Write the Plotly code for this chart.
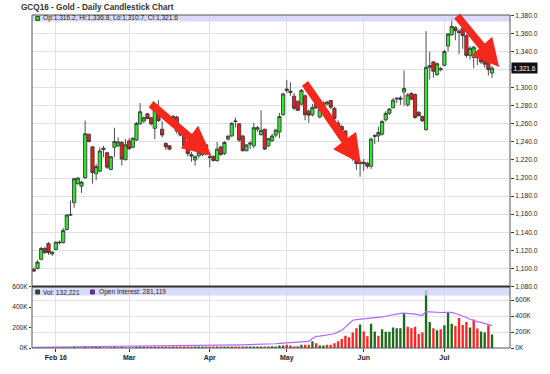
import plotly.graph_objects as go
import pandas as pd

# ---------------- data ----------------
holidays = ["2016-02-15", "2016-03-25", "2016-05-30", "2016-07-04"]
dates = [d for d in pd.bdate_range("2016-01-22", "2016-07-21")
         if d.strftime("%Y-%m-%d") not in holidays]

month_labels = ["Feb 16", "Mar", "Apr", "May", "Jun", "Jul"]

opens = [
    1099, 1100, 1110, 1122, 1127.5, 1116, 1121, 1129, 1128.5, 1143,
    1159, 1172.7, 1194, 1191, 1200.4, 1248.4, 1234.5, 1204.7, 1207.6, 1233,
    1228, 1209.5, 1234, 1236, 1239.3, 1220.4, 1241, 1234, 1242, 1260,
    1263, 1271, 1266.7, 1255, 1271, 1254, 1238.2, 1235.6, 1263.6, 1267.5,
    1254, 1247, 1232, 1225.8, 1220, 1224.7, 1226, 1236.7, 1223.6, 1224,
    1219.2, 1234.5, 1227.2, 1243, 1246.6, 1263.2, 1260, 1246.6, 1230.2, 1237.5,
    1235.6, 1254, 1248, 1253.9, 1235.6, 1241.5, 1247.5, 1251, 1270, 1298.5,
    1294.5, 1290.5, 1285, 1281.8, 1291, 1274, 1270, 1283, 1267.5, 1274.7,
    1282, 1285.7, 1277, 1261, 1257, 1252, 1241, 1232, 1219, 1216,
    1217.4, 1216.3, 1213, 1246, 1246.7, 1248.5, 1264.4, 1271.6, 1277.8, 1287.5,
    1287, 1295.3, 1281, 1293.5, 1292.4, 1272.7, 1268, 1253.5, 1322.5, 1328.5,
    1314.5, 1321, 1324.8, 1346, 1358.5, 1366.6, 1362.5, 1365.5, 1357.5, 1335.7,
    1333.5, 1339.8, 1333.5, 1331, 1329, 1316.2,
]
highs = [
    1101, 1109, 1124, 1124, 1129, 1119, 1130, 1131, 1144.5, 1160,
    1175, 1200.4, 1201, 1197, 1263.6, 1249, 1235, 1215.6, 1233.8, 1235.6,
    1229, 1224.4, 1255.6, 1245, 1241, 1243, 1244, 1245, 1262, 1283,
    1268, 1272, 1267.5, 1283, 1286, 1263, 1239.5, 1236.5, 1270, 1269,
    1256, 1249, 1235, 1229, 1225, 1230, 1238, 1238, 1227, 1225,
    1240, 1235, 1241, 1247.5, 1262, 1267, 1260.8, 1247, 1237.5, 1241,
    1261, 1257.5, 1275, 1254.6, 1244.5, 1249, 1254.5, 1272, 1294.5, 1308.5,
    1306, 1294, 1285.5, 1298.5, 1292.5, 1276, 1282, 1284, 1277, 1285,
    1285.5, 1286.5, 1279, 1264, 1259, 1253, 1243, 1234, 1220, 1219.5,
    1221, 1218, 1245, 1248.5, 1257, 1264.5, 1274, 1277.5, 1288.5, 1289,
    1291, 1319, 1294, 1295, 1293.5, 1274, 1269, 1362.5, 1339.8, 1329.5,
    1328, 1323, 1342, 1360.5, 1378, 1368, 1365, 1367, 1359, 1346,
    1346, 1341, 1335, 1332, 1330.5, 1324,
]
lows = [
    1096, 1099, 1109, 1116, 1115, 1114, 1120, 1126.5, 1127.5, 1142,
    1158, 1167, 1192, 1183.5, 1199, 1239.3, 1193.8, 1197.5, 1206.5, 1223,
    1210, 1208.4, 1223, 1234, 1213.8, 1219.3, 1231, 1233, 1241, 1259,
    1261, 1265, 1258, 1243, 1262, 1245, 1231, 1230.5, 1262, 1249,
    1246, 1234, 1224, 1218, 1213.8, 1222, 1224, 1225, 1212, 1218,
    1218.2, 1224.5, 1225.5, 1241.5, 1245.5, 1256, 1240, 1229.5, 1229.5, 1232,
    1233, 1251, 1247, 1231, 1234, 1239.5, 1245, 1244, 1269, 1294,
    1291, 1275, 1274, 1280, 1264, 1261, 1268, 1276, 1266, 1273,
    1280, 1276, 1262, 1254, 1251, 1240, 1230, 1219, 1209, 1201.5,
    1208, 1210.5, 1210, 1237.5, 1240, 1247, 1262.5, 1269.5, 1277, 1283,
    1281, 1280, 1279, 1286, 1265.5, 1268, 1262, 1252.5, 1309, 1311,
    1313, 1318, 1323.5, 1340, 1357.5, 1352.5, 1337, 1343, 1333, 1331,
    1321.5, 1325, 1326, 1322, 1313.5, 1310.7,
]
closes = [
    1097, 1107, 1122, 1117.5, 1117.5, 1118, 1129, 1128.5, 1142, 1159,
    1159.5, 1199.3, 1200, 1195.5, 1249, 1240.4, 1206, 1212.7, 1230, 1231.5,
    1212, 1223.6, 1240.4, 1240, 1221, 1236.7, 1232.5, 1244, 1260.5, 1273.3,
    1266.7, 1266, 1260, 1275, 1263.5, 1247.6, 1234.6, 1232, 1268, 1252,
    1247.5, 1236, 1227, 1224.4, 1223.6, 1228.4, 1236, 1226.5, 1222.9, 1219.5,
    1232, 1226, 1239.3, 1246.2, 1260.5, 1262.6, 1242, 1230.2, 1236.6, 1238.5,
    1255.7, 1255.7, 1252.8, 1232, 1243.5, 1246.4, 1253, 1268, 1293, 1297,
    1296, 1277.3, 1275, 1297, 1270, 1269.6, 1278, 1277.7, 1275.8, 1283,
    1284, 1278.4, 1266, 1256, 1253, 1242, 1232, 1222, 1216, 1217.5,
    1215.8, 1213, 1243, 1247, 1250.3, 1262.5, 1271.6, 1276.4, 1286.2, 1288.3,
    1288.5, 1299, 1292, 1287.3, 1267, 1269, 1263.3, 1322.5, 1324.4, 1318.2,
    1326.5, 1320, 1340, 1359.3, 1367.8, 1363, 1361, 1357.5, 1335.7, 1343.5,
    1344.8, 1333, 1328.5, 1326, 1320, 1321.6,
]
# volume and open interest, in thousands of contracts
volume_k = [
    1.2, 0.8, 1.5, 1.0, 1.8, 0.9, 2.1, 1.4, 2.6, 3.0,
    1.7, 8.5, 3.2, 2.4, 11.0, 4.1, 5.6, 9.8, 8.7, 2.9,
    3.5, 4.2, 5.1, 2.8, 4.6, 3.9, 4.4, 3.1, 10.5, 6.2,
    9.1, 8.4, 10.2, 12.5, 9.6, 11.3, 6.0, 5.2, 11.8, 13.1,
    10.4, 12.2, 11.5, 9.7, 6.4, 10.8, 12.0, 7.5, 6.8, 5.9,
    12.6, 10.9, 13.4, 11.2, 14.0, 9.3, 12.8, 13.5, 7.9, 12.1,
    14.6, 10.5, 15.8, 14.2, 13.0, 16.4, 15, 25, 25, 31,
    25, 15, 16, 31, 31, 31, 67, 47, 25, 25,
    31, 31, 47, 67, 88, 120, 105, 152, 193, 231,
    161, 114, 238, 161, 120, 184, 158, 158, 200, 193,
    193, 343, 209, 193, 209, 136, 152, 565, 254, 193,
    174, 184, 222, 349, 238, 216, 295, 225, 254, 200,
    279, 190, 161, 152, 222, 132.221,
]
# u = volume bar for an up day, d = down day
vol_dir = list("duudduuduu" "uuuuudduud" "duuududuuu" "udduddddud"
               "dddduuuddd" "uduuuddduu" "uuuduuuuud" "dddudduduu"
               "dddddddddu" "dduuduuuuu" "uuddddduud" "uduuuddddu"
               "dduudu")
open_interest_k = [
    9.5, 9.8, 10.1, 10.5, 10.8, 11.0, 11.4, 11.7, 12.1, 12.6,
    12.9, 13.6, 13.9, 14.2, 15.0, 15.3, 15.9, 16.4, 16.8, 17.0,
    17.3, 17.6, 18.0, 18.2, 18.6, 18.9, 19.3, 19.5, 20.2, 20.6,
    21.3, 21.9, 22.6, 23.4, 24.1, 24.8, 25.2, 25.6, 26.5, 27.4,
    28.1, 28.9, 29.6, 30.2, 30.6, 31.3, 32.0, 32.5, 32.9, 33.3,
    34.2, 34.9, 35.8, 36.6, 37.6, 38.2, 39.1, 40.0, 40.5, 41.3,
    42.4, 43.1, 44.3, 45.4, 46.3, 47.5, 53, 57, 61, 64,
    67, 70, 73, 76, 80, 84, 118, 146, 150, 155,
    162, 170, 178, 202, 222, 262, 305, 348, 356, 360,
    362, 365, 370, 378, 385, 390, 398, 408, 420, 428,
    433, 436, 434, 432, 425, 415, 410, 457, 452, 448,
    444, 445, 447, 448, 446, 432, 418, 398, 382, 360,
    340, 330, 321, 310, 296, 281.119,
]
last_quote = {"Op": 1316.2, "Hi": 1336.8, "Lo": 1310.7, "Cl": 1321.6}
price_ticks = list(range(1080, 1381, 20))
vol_ticks = [0, 200, 400, 600]

# ---------------- geometry helpers ----------------
W_FIG, H_FIG = 550, 374
ML, MR, MT, MB = 17, 27, 13, 25
PW, PH = W_FIG - ML - MR, H_FIG - MT - MB


def pxx(x):
    return (x - ML) / PW


def pxy(y):
    return (H_FIG - MB - y) / PH


VOL_TOP = 287
vol_frac = pxy(VOL_TOP)

idx = list(range(len(dates)))
month_idx = [i for i in range(1, len(dates)) if dates[i].month != dates[i - 1].month]

FONT = "Liberation Sans"
GRID = "#e1e1e1"

fig = go.Figure()
fig.add_trace(go.Candlestick(
    x=idx, open=opens, high=highs, low=lows, close=closes,
    xaxis="x", yaxis="y", whiskerwidth=0,
    increasing=dict(fillcolor="#2ee82e", line=dict(color="#3a3a3a", width=0.9)),
    decreasing=dict(fillcolor="#f01c1c", line=dict(color="#3a3a3a", width=0.9)),
    showlegend=False, hoverinfo="skip"))

vol_colors = ["#1b6b1b" if d == "u" else "#ff2222" for d in vol_dir]
fig.add_trace(go.Bar(
    x=idx, y=volume_k, xaxis="x", yaxis="y2", width=0.64,
    marker=dict(color=vol_colors, line=dict(width=0)),
    showlegend=False, hoverinfo="skip"))
fig.add_trace(go.Scatter(
    x=idx, y=open_interest_k, xaxis="x", yaxis="y3", mode="lines",
    line=dict(color="#b266ff", width=1.2), showlegend=False, hoverinfo="skip"))

tickfont = dict(family=FONT, size=6.6, color="#222")

# the last-price box covers the label of the nearest grid value
price_ticktext = ["" if abs(v - closes[-1]) < 5 else "{:,.1f}".format(v) for v in price_ticks]
vol_ticktext = ["%dK" % v for v in vol_ticks]

# ---------------- decorations ----------------
shapes = []
band = "rgba(208,208,250,0.78)"
shapes.append(dict(type="rect", xref="paper", yref="paper", x0=0, x1=1,
                   y0=pxy(19.5), y1=1, fillcolor=band, line=dict(width=0), layer="above"))
shapes.append(dict(type="rect", xref="paper", yref="paper", x0=0, x1=1,
                   y0=pxy(296), y1=vol_frac, fillcolor=band, line=dict(width=0), layer="above"))
shapes.append(dict(type="rect", xref="paper", yref="paper", x0=0, x1=1,
                   y0=vol_frac, y1=1, line=dict(color="#555", width=1), layer="above"))
shapes.append(dict(type="rect", xref="paper", yref="paper", x0=0, x1=1,
                   y0=0, y1=vol_frac, line=dict(color="#555", width=1), layer="above"))
shapes.append(dict(type="line", xref="paper", yref="paper", x0=0, x1=1,
                   y0=vol_frac, y1=vol_frac, line=dict(color="#333", width=2), layer="above"))


def arrow_path(tail, tip, head_len, head_half, shaft_half):
    tx, ty = tail
    hx, hy = tip
    dx, dy = hx - tx, hy - ty
    n = (dx * dx + dy * dy) ** 0.5
    ux, uy = dx / n, dy / n
    nx, ny = -uy, ux
    bx, by = hx - ux * head_len, hy - uy * head_len
    pts = [
        (tx + nx * shaft_half, ty + ny * shaft_half),
        (bx + nx * shaft_half, by + ny * shaft_half),
        (bx + nx * head_half, by + ny * head_half),
        (hx, hy),
        (bx - nx * head_half, by - ny * head_half),
        (bx - nx * shaft_half, by - ny * shaft_half),
        (tx - nx * shaft_half, ty - ny * shaft_half),
    ]
    return "M " + " L ".join(f"{pxx(x):.5f},{pxy(y):.5f}" for x, y in pts) + " Z"


arrows = [
    ((143, 103), (207, 155), 30, 14.5, 4),
    ((306, 82), (365, 163), 29, 15, 4),
    ((467, 14), (511.5, 65.5), 28, 14.5, 4),
]
for tail, tip, hl, hh, sh in arrows:
    shapes.append(dict(type="path", xref="paper", yref="paper",
                       path=arrow_path(tail, tip, hl, hh, sh),
                       fillcolor="#f4281c", line=dict(width=0), layer="above"))

for (x0, y0, col) in [(21, 14.5, "#22dd22"), (21, 290.5, "#1b5e1b"), (79, 290.5, "#8822ee")]:
    shapes.append(dict(type="rect", xref="paper", yref="paper",
                       x0=pxx(x0), x1=pxx(x0 + 4), y0=pxy(y0 + 4), y1=pxy(y0),
                       fillcolor=col, line=dict(color="#222", width=0.8), layer="above"))

annotations = [
    dict(xref="paper", yref="paper", x=pxx(3), y=pxy(5.3), xanchor="left", yanchor="middle",
         text="<b>GCQ16 - Gold - Daily Candlestick Chart</b>", showarrow=False,
         font=dict(family=FONT, size=8.2, color="#333")),
    dict(xref="paper", yref="paper", x=pxx(27), y=pxy(16.3), xanchor="left", yanchor="middle",
         text="Op:{:,.1f}, Hi:{:,.1f}, Lo:{:,.1f}, Cl:{:,.1f}".format(
             last_quote["Op"], last_quote["Hi"], last_quote["Lo"], last_quote["Cl"]),
         showarrow=False, font=dict(family=FONT, size=6.6, color="#222")),
    dict(xref="paper", yref="paper", x=pxx(27), y=pxy(292.5), xanchor="left", yanchor="middle",
         text="Vol: {:,}".format(int(round(volume_k[-1] * 1000))), showarrow=False,
         font=dict(family=FONT, size=6.6, color="#222")),
    dict(xref="paper", yref="paper", x=pxx(86), y=pxy(292.5), xanchor="left", yanchor="middle",
         text="Open Interest: {:,}".format(int(round(open_interest_k[-1] * 1000))), showarrow=False,
         font=dict(family=FONT, size=6.6, color="#222")),
    dict(xref="paper", yref="y", x=pxx(524), y=closes[-1], xanchor="left", yanchor="middle",
         text="{:,.1f}".format(closes[-1]), showarrow=False, bgcolor="#111",
         borderpad=1.5, font=dict(family=FONT, size=6.6, color="#fff")),
]

fig.update_layout(
    width=W_FIG, height=H_FIG,
    margin=dict(l=ML, r=MR, t=MT, b=MB),
    paper_bgcolor="white", plot_bgcolor="white",
    font=dict(family=FONT),
    showlegend=False,
    boxgap=0.12, boxgroupgap=0,
    xaxis=dict(domain=[0, 1], anchor="y2", range=[-0.5, 129.9],
               tickvals=month_idx, ticktext=["<b>%s</b>" % s for s in month_labels],
               ticks="outside", ticklen=3, tickcolor="#333",
               showgrid=True, gridcolor=GRID, zeroline=False, showline=False,
               rangeslider=dict(visible=False),
               tickfont=dict(family=FONT, size=7, color="#222")),
    yaxis=dict(domain=[vol_frac, 1], side="right", anchor="x",
               range=[1079.9, 1380.4], tickvals=price_ticks, ticktext=price_ticktext,
               ticks="outside", ticklen=3, tickcolor="#333",
               showgrid=True, gridcolor=GRID, zeroline=False, tickfont=tickfont),
    yaxis2=dict(domain=[0, vol_frac], side="left", anchor="x",
                range=[0, 602], tickvals=vol_ticks, ticktext=vol_ticktext,
                ticks="outside", ticklen=2, tickcolor="#333",
                showgrid=False, zeroline=False, tickfont=tickfont),
    yaxis3=dict(overlaying="y2", side="right", anchor="x",
                range=[0, 770], tickvals=vol_ticks, ticktext=vol_ticktext,
                ticks="outside", ticklen=3, tickcolor="#333",
                showgrid=True, gridcolor=GRID, zeroline=False, tickfont=tickfont),
    shapes=shapes,
    annotations=annotations,
)

fig.write_html("out.html", config={"displayModeBar": False})
